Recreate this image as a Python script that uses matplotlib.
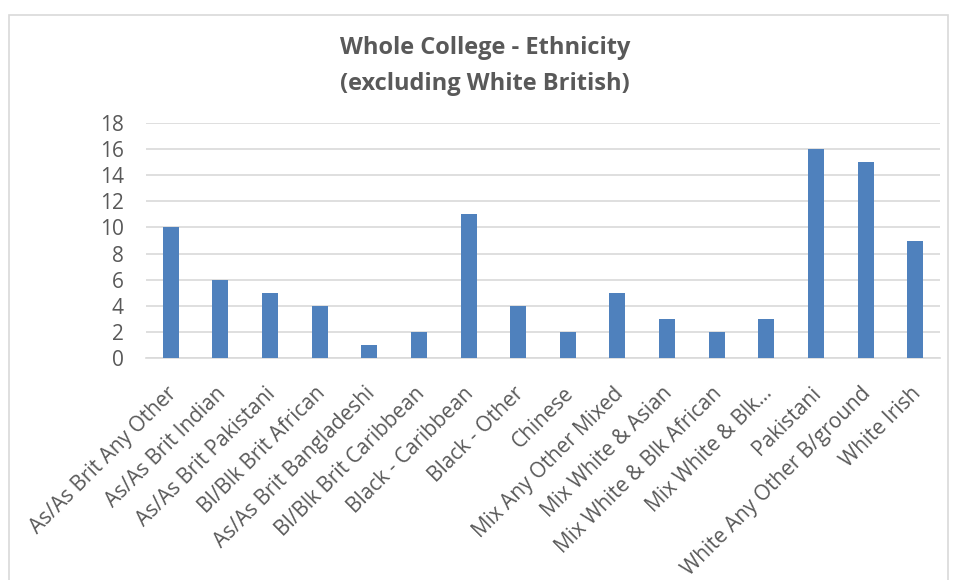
import matplotlib.pyplot as plt
from matplotlib.patches import Rectangle

categories = [
    "As/As Brit Any Other", "As/As Brit Indian", "As/As Brit Pakistani",
    "Bl/Blk Brit African", "As/As Brit Bangladeshi", "Bl/Blk Brit Caribbean",
    "Black - Caribbean", "Black - Other", "Chinese", "Mix Any Other Mixed",
    "Mix White & Asian", "Mix White & Blk African", "Mix White & Blk\u2026",
    "Pakistani", "White Any Other B/ground", "White Irish",
]
counts = [10, 6, 5, 4, 1, 2, 11, 4, 2, 5, 3, 2, 3, 16, 15, 9]
yticks = [0, 2, 4, 6, 8, 10, 12, 14, 16, 18]

plt.rcParams["font.family"] = ["Open Sans", "DejaVu Sans"]
text_color = "#595959"
grid_color = "#d9d9d9"

fig = plt.figure(figsize=(9.6, 5.8), dpi=100)
ax = fig.add_axes([146 / 960, 1 - 358 / 580, 794 / 960, 235 / 580])

# chart border
fig.patches.append(Rectangle((9 / 960, -0.05), 939 / 960, 1 - 15 / 580 + 0.05,
                             transform=fig.transFigure, fill=False,
                             edgecolor="#d9d9d9", linewidth=1.2))

x = list(range(len(categories)))
ax.bar(x, counts, width=0.32, color="#4f81bd", zorder=3)

ax.set_xlim(-0.5, len(categories) - 0.5)
ax.set_ylim(0, 18)
ax.set_yticks(yticks)
ax.grid(axis="y", color=grid_color, linewidth=1.2, zorder=0)
ax.set_xticks(x)
ax.set_xticklabels([])

# rotated category labels, placed like Excel does them
for i, name in zip(x, categories):
    ax.annotate(name, xy=(i, 0), xycoords=("data", "axes fraction"),
                xytext=(-5, -25), textcoords="offset pixels",
                rotation=45, ha="right", va="top", rotation_mode="anchor",
                fontsize=15, color=text_color)

for lbl in ax.get_yticklabels():
    lbl.set_fontsize(15)
    lbl.set_color(text_color)
ax.tick_params(axis="y", length=0, pad=16)
ax.tick_params(axis="x", length=0)
for side in ["top", "right", "left"]:
    ax.spines[side].set_visible(False)
ax.spines["bottom"].set_color(grid_color)
ax.spines["bottom"].set_linewidth(1.2)

fig.text(485 / 960, 1 - 48 / 580, "Whole College - Ethnicity", ha="center",
         va="center", fontsize=17, fontweight="bold", color=text_color)
fig.text(485 / 960, 1 - 84 / 580, "(excluding White British)", ha="center",
         va="center", fontsize=17, fontweight="bold", color=text_color)

fig.savefig("out.png", dpi=100)
plt.close(fig)
